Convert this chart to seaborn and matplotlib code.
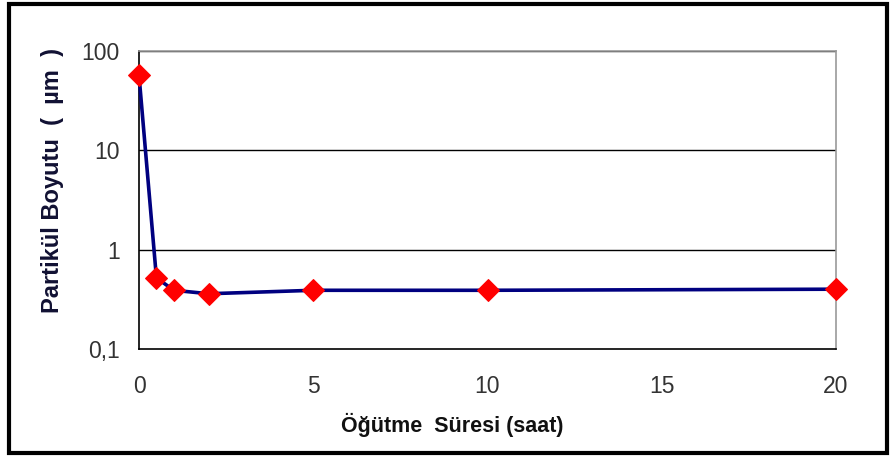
import matplotlib
matplotlib.use("Agg")
import matplotlib.pyplot as plt
import matplotlib.ticker as mticker
from matplotlib.patches import Rectangle
import seaborn as sb
import pandas as pd

# grinding time (hours) and particle size (micrometre)
sure = [0, 0.5, 1, 2, 5, 10, 20]
boyut = [57, 0.52, 0.39, 0.36, 0.39, 0.39, 0.40]
x_ticks = [0, 5, 10, 15, 20]
y_ticks = [0.1, 1, 10, 100]
y_labels = ["0,1", "1", "10", "100"]

sb.set_style("white")
plt.rcParams['font.family'] = ['Liberation Sans', 'DejaVu Sans']

df = pd.DataFrame({'sure': sure, 'boyut': boyut})

fig = plt.figure(figsize=(8.93, 4.57), dpi=100)
ax = fig.add_axes([139 / 893, 1 - 349 / 457, (836 - 139) / 893, (349 - 51) / 457])

sb.lineplot(data=df, x='sure', y='boyut', ax=ax, color='#000080', linewidth=2.6,
            marker='D', markersize=11, markerfacecolor='#ff0000',
            markeredgecolor='#ff0000', zorder=3, clip_on=False)

ax.set_yscale('log')
ax.set_xlim(0, 20)
ax.set_ylim(0.1, 100)
ax.set_xticks(x_ticks)
ax.set_xticklabels([str(t) for t in x_ticks])
ax.yaxis.set_major_locator(mticker.FixedLocator(y_ticks))
ax.yaxis.set_minor_locator(mticker.NullLocator())
ax.set_yticklabels(y_labels)
ax.tick_params(axis='both', direction='out', length=6, width=1, color='black',
               labelsize=16.5, labelcolor='#333333')
ax.tick_params(axis='y', pad=8)
ax.tick_params(axis='x', pad=13)

for v in [1, 10, 100]:
    ax.axhline(v, color='black', linewidth=1, zorder=1)

ax.spines['left'].set_color('black')
ax.spines['bottom'].set_color('black')
ax.spines['top'].set_color('#999999')
ax.spines['right'].set_color('#999999')
for s in ax.spines.values():
    s.set_linewidth(1.2)

ax.set_xlabel('Öğütme  Süresi (saat)', fontsize=15.5, fontweight='bold',
              color='#111111', va='center')
ax.xaxis.set_label_coords(0.45, -0.255)
ax.set_ylabel('Partikül Boyutu  (  µm  )', fontsize=17, fontweight='bold',
              color='#111133', va='center')
ax.yaxis.set_label_coords(-0.124, 0.567)

fig.patches.append(Rectangle((9 / 893, 4 / 457), 878 / 893, 449 / 457,
                             transform=fig.transFigure, fill=False,
                             edgecolor='black', linewidth=3))

fig.savefig('out.png', dpi=100)
